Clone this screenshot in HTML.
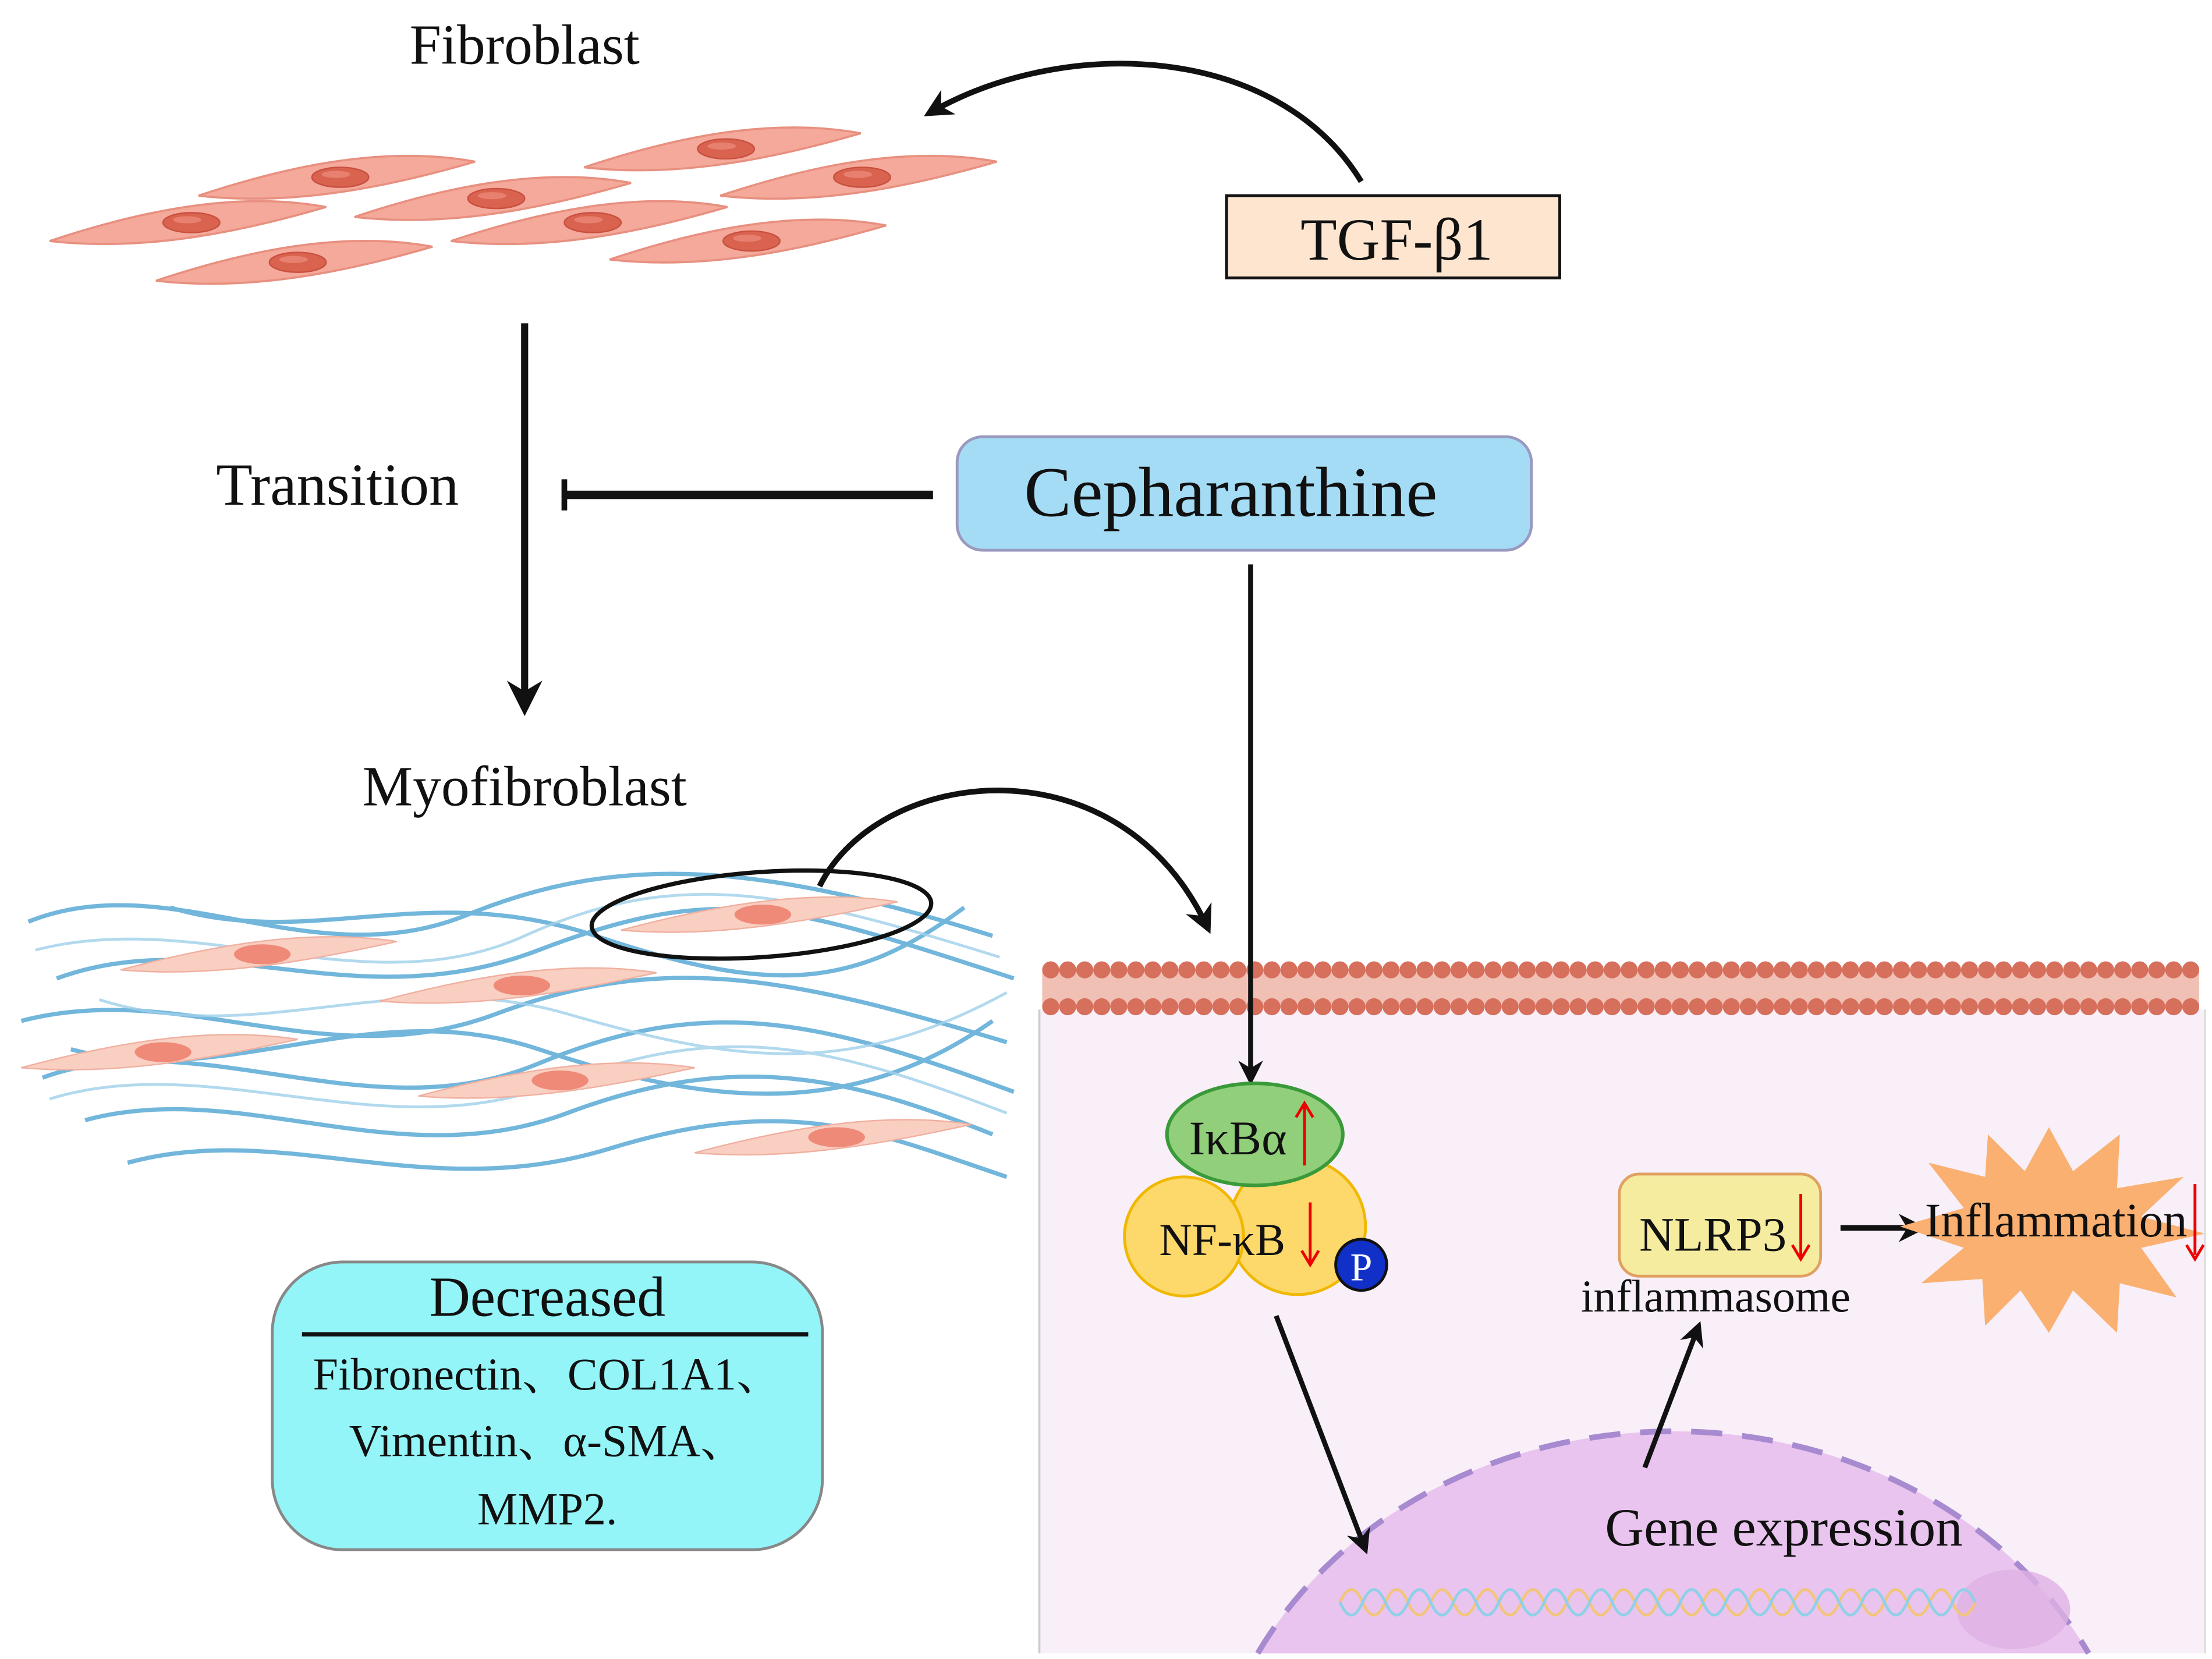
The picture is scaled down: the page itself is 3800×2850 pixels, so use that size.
<!DOCTYPE html>
<html><head><meta charset="utf-8"><style>
html,body{margin:0;padding:0;background:#fff;width:3800px;height:2850px;overflow:hidden}
svg{display:block;overflow:hidden}
text{font-family:"Liberation Serif","Noto Serif CJK SC",serif;fill:#111}
</style></head><body>
<svg width="3800" height="2850" viewBox="0 0 1560 1170" preserveAspectRatio="none" xmlns="http://www.w3.org/2000/svg">
<defs>
<g id="cell">
<path d="M-100,10 C-40,-10 30,-26 95,-14 C40,2 -30,18 -100,10 Z" fill="#f4a99a" stroke="#e89080" stroke-width="1.5"/>
<ellipse cx="0" cy="-3" rx="20" ry="7" fill="#d9634f" stroke="#c85040"/>
<ellipse cx="-3" cy="-5" rx="10" ry="2.5" fill="#e88070"/>
</g>
<g id="mcell">
<path d="M-100,8 C-40,-8 30,-22 95,-12 C40,0 -30,14 -100,8 Z" fill="#f9cfc2" stroke="#f0b0a0" stroke-width="1"/>
<ellipse cx="0" cy="-3" rx="20" ry="7" fill="#ef8a78"/>
</g>
<marker id="ah" viewBox="0 0 10 10" refX="8" refY="5" markerWidth="5" markerHeight="5" orient="auto"><path d="M0,0 L10,5 L0,10 L3,5 Z" fill="#111"/></marker>
</defs>

<text x="370" y="45" font-size="40" text-anchor="middle">Fibroblast</text>
<use href="#cell" x="240" y="128"/>
<use href="#cell" x="512" y="108"/>
<use href="#cell" x="350" y="143"/>
<use href="#cell" x="608" y="128"/>
<use href="#cell" x="135" y="160"/>
<use href="#cell" x="418" y="160"/>
<use href="#cell" x="210" y="188"/>
<use href="#cell" x="530" y="173"/>

<path d="M960,128 C900,30 750,25 655,80" fill="none" stroke="#111" stroke-width="4" marker-end="url(#ah)"/>
<rect x="865" y="138" width="235" height="58" fill="#fde5cf" stroke="#111" stroke-width="2"/>
<text x="985" y="183" font-size="42" text-anchor="middle">TGF-β1</text>

<line x1="370" y1="228" x2="370" y2="500" stroke="#111" stroke-width="5" marker-end="url(#ah)"/>
<text x="238" y="356" font-size="42" text-anchor="middle">Transition</text>
<line x1="658" y1="349" x2="398" y2="349" stroke="#111" stroke-width="6"/>
<line x1="398" y1="338" x2="398" y2="360" stroke="#111" stroke-width="4"/>

<rect x="675" y="308" width="405" height="80" rx="18" fill="#a5dcf5" stroke="#9a9ac0" stroke-width="2"/>
<text x="868" y="364" font-size="50" text-anchor="middle">Cepharanthine</text>

<text x="370" y="568" font-size="40" text-anchor="middle">Myofibroblast</text>
<g fill="none" stroke="#5aaad5" stroke-width="3" opacity="0.85">
<path d="M20,650 C120,610 220,690 330,645 S540,610 700,660"/>
<path d="M40,690 C150,650 250,720 380,670 S560,640 715,690"/>
<path d="M15,720 C130,690 230,760 350,715 S560,690 710,735"/>
<path d="M30,760 C140,720 260,800 380,750 S580,720 715,770"/>
<path d="M60,790 C170,760 280,830 400,785 S600,760 700,800"/>
<path d="M90,820 C200,790 300,850 430,810 S620,800 710,830"/>
<path d="M120,640 C220,670 300,620 420,660 S600,700 680,640"/>
<path d="M50,740 C160,770 260,700 380,740 S600,790 700,720"/>
</g>
<g fill="none" stroke="#9fd0ea" stroke-width="2" opacity="0.8">
<path d="M25,670 C140,640 260,710 370,660 S560,630 705,675"/>
<path d="M35,775 C150,740 270,810 390,765 S580,735 710,785"/>
<path d="M70,705 C180,740 280,680 400,715 S600,760 710,700"/>
</g>
<use href="#mcell" x="185" y="676"/>
<use href="#mcell" x="538" y="648"/>
<use href="#mcell" x="368" y="698"/>
<use href="#mcell" x="115" y="745"/>
<use href="#mcell" x="395" y="765"/>
<use href="#mcell" x="590" y="805"/>
<ellipse cx="537" cy="645" rx="120" ry="30" transform="rotate(-4 537 645)" fill="none" stroke="#111" stroke-width="3"/>
<path d="M578,625 C620,540 790,520 852,655" fill="none" stroke="#111" stroke-width="4" marker-end="url(#ah)"/>

<rect x="192" y="890" width="388" height="203" rx="50" fill="#93f5f8" stroke="#888" stroke-width="2"/>
<text x="386" y="928" font-size="40" text-anchor="middle">Decreased</text>
<line x1="213" y1="941" x2="570" y2="941" stroke="#111" stroke-width="3"/>
<text x="386" y="980" font-size="32" text-anchor="middle">Fibronectin、COL1A1、</text>
<text x="386" y="1027" font-size="32" text-anchor="middle">Vimentin、α-SMA、</text>
<text x="386" y="1075" font-size="32" text-anchor="middle">MMP2.</text>

<rect x="733" y="712" width="822" height="454" fill="#f8eff8"/>
<line x1="733" y1="712" x2="733" y2="1166" stroke="#ccc" stroke-width="1.5"/>
<line x1="1555" y1="712" x2="1555" y2="1166" stroke="#ddd" stroke-width="1.5"/>
<g fill="#d66f5c">
<rect x="735" y="684" width="816" height="26" fill="#f1c0b5"/>
<g id="row">
<circle cx="741" cy="684" r="6"/><circle cx="753" cy="684" r="6"/><circle cx="765" cy="684" r="6"/><circle cx="777" cy="684" r="6"/><circle cx="789" cy="684" r="6"/><circle cx="801" cy="684" r="6"/><circle cx="813" cy="684" r="6"/><circle cx="825" cy="684" r="6"/><circle cx="837" cy="684" r="6"/><circle cx="849" cy="684" r="6"/><circle cx="861" cy="684" r="6"/><circle cx="873" cy="684" r="6"/><circle cx="885" cy="684" r="6"/><circle cx="897" cy="684" r="6"/><circle cx="909" cy="684" r="6"/><circle cx="921" cy="684" r="6"/><circle cx="933" cy="684" r="6"/><circle cx="945" cy="684" r="6"/><circle cx="957" cy="684" r="6"/><circle cx="969" cy="684" r="6"/><circle cx="981" cy="684" r="6"/><circle cx="993" cy="684" r="6"/><circle cx="1005" cy="684" r="6"/><circle cx="1017" cy="684" r="6"/><circle cx="1029" cy="684" r="6"/><circle cx="1041" cy="684" r="6"/><circle cx="1053" cy="684" r="6"/><circle cx="1065" cy="684" r="6"/><circle cx="1077" cy="684" r="6"/><circle cx="1089" cy="684" r="6"/><circle cx="1101" cy="684" r="6"/><circle cx="1113" cy="684" r="6"/><circle cx="1125" cy="684" r="6"/><circle cx="1137" cy="684" r="6"/>
</g>
<use href="#row" x="408"/>
<use href="#row" x="0" y="26"/>
<use href="#row" x="408" y="26"/>
</g>

<path d="M887,1166 A330,290 0 0 1 1473,1166 Z" fill="#e9c4ee"/>
<path d="M887,1166 A330,290 0 0 1 1473,1166" fill="none" stroke="#a78ad0" stroke-width="4" stroke-dasharray="22 14"/>
<ellipse cx="1420" cy="1135" rx="40" ry="28" fill="#deb2e4" opacity="0.8"/>
<g fill="none" stroke-width="2">
<path d="M945,1130 q8,-18 16,0 t16,0 t16,0 t16,0 t16,0 t16,0 t16,0 t16,0 t16,0 t16,0 t16,0 t16,0 t16,0 t16,0 t16,0 t16,0 t16,0 t16,0 t16,0 t16,0 t16,0 t16,0 t16,0 t16,0 t16,0 t16,0 t16,0 t16,0" stroke="#f2c57a"/>
<path d="M945,1130 q8,18 16,0 t16,0 t16,0 t16,0 t16,0 t16,0 t16,0 t16,0 t16,0 t16,0 t16,0 t16,0 t16,0 t16,0 t16,0 t16,0 t16,0 t16,0 t16,0 t16,0 t16,0 t16,0 t16,0 t16,0 t16,0 t16,0 t16,0 t16,0" stroke="#8fd0e8"/>
</g>
<text x="1258" y="1090" font-size="38" text-anchor="middle">Gene expression</text>

<line x1="882" y1="398" x2="882" y2="762" stroke="#111" stroke-width="3.5" marker-end="url(#ah)"/>

<circle cx="915" cy="865" r="48" fill="#fdd86a" stroke="#f0b800" stroke-width="2"/>
<circle cx="835" cy="872" r="42" fill="#fdd86a" stroke="#f0b800" stroke-width="2"/>
<ellipse cx="885" cy="800" rx="62" ry="36" fill="#92cf7a" stroke="#3a9a3a" stroke-width="2.5"/>
<text x="873" y="814" font-size="34" text-anchor="middle">IκBα</text>
<line x1="920" y1="822" x2="920" y2="780" stroke="#e00" stroke-width="2"/><path d="M914,788 L920,778 L926,788" fill="none" stroke="#e00" stroke-width="2"/>
<text x="862" y="885" font-size="32" text-anchor="middle">NF-κB</text>
<line x1="924" y1="848" x2="924" y2="890" stroke="#e00" stroke-width="2"/><path d="M918,882 L924,892 L930,882" fill="none" stroke="#e00" stroke-width="2"/>
<circle cx="960" cy="892" r="18" fill="#1030c8" stroke="#111" stroke-width="2"/>
<text x="960" y="903" font-size="28" text-anchor="middle" style="fill:#fff">P</text>

<line x1="900" y1="928" x2="963" y2="1093" stroke="#111" stroke-width="3.5" marker-end="url(#ah)"/>
<line x1="1160" y1="1035" x2="1198" y2="935" stroke="#111" stroke-width="3.5" marker-end="url(#ah)"/>

<rect x="1142" y="828" width="142" height="72" rx="14" fill="#f5eca0" stroke="#e0a060" stroke-width="2"/>
<text x="1208" y="882" font-size="34" text-anchor="middle">NLRP3</text>
<line x1="1270" y1="842" x2="1270" y2="886" stroke="#e00" stroke-width="2"/><path d="M1264,878 L1270,888 L1276,878" fill="none" stroke="#e00" stroke-width="2"/>
<text x="1210" y="925" font-size="32" text-anchor="middle">inflammasome</text>
<line x1="1298" y1="866" x2="1355" y2="866" stroke="#111" stroke-width="4" marker-end="url(#ah)"/>

<polygon fill="#f9b070" points="1445,795 1462,826 1495,800 1493,838 1540,830 1510,858 1555,870 1510,880 1535,915 1495,905 1493,940 1462,910 1445,940 1425,910 1400,935 1398,902 1355,905 1385,880 1340,865 1385,852 1360,820 1400,830 1402,800 1428,826"/>
<text x="1450" y="872" font-size="34" text-anchor="middle">Inflammation</text>
<line x1="1548" y1="835" x2="1548" y2="885" stroke="#e00" stroke-width="2"/><path d="M1542,878 L1548,888 L1554,878" fill="none" stroke="#e00" stroke-width="2"/>
</svg>
</body></html>
